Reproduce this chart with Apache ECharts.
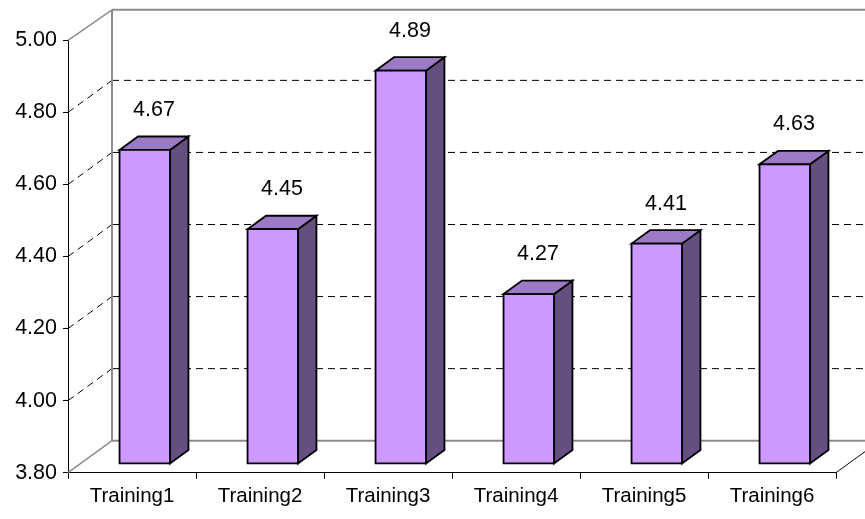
<!DOCTYPE html>
<html><head><meta charset="utf-8">
<script src="https://cdn.jsdelivr.net/npm/echarts@6/dist/echarts.min.js"></script>
<style>html,body{margin:0;padding:0;background:#fff}#c{width:865px;height:519px}</style>
</head><body><div id="c"></div>
<script>
// ---- data ----
const categories = ['Training1', 'Training2', 'Training3', 'Training4', 'Training5', 'Training6'];
const values = [4.67, 4.45, 4.89, 4.27, 4.41, 4.63];
const gridValues = [4.0, 4.2, 4.4, 4.6, 4.8];
const yMin = 3.8, yMax = 5.0, yStep = 0.2;

// ---- style / 3D geometry ----
const DX = 44, DY = -32;          // depth of the chart box
const F0 = 0.29, F1 = 0.71;       // bar depth band (fraction of depth)
const BAR_W = 0.394;              // bar width as fraction of category width
const FONT = '"Liberation Sans", Arial, sans-serif';
const FS = 20.5, FSN = 21.5;
const C_FRONT = '#CC99FF', C_TOP = '#9D7AC6', C_SIDE = '#654E80';
const C_WALL = '#8C8C8C';

const chart = echarts.init(document.getElementById('c'), null, {renderer: 'canvas'});

function gridItem(params, api) {
  const cs = params.coordSys;
  const v = api.value(1);
  const y = api.coord([0, v])[1];
  const x0 = cs.x;
  const style = {stroke: '#000', lineWidth: 1, lineDash: [7, 5]};
  return {type: 'group', children: [
    {type: 'line', shape: {x1: x0, y1: y, x2: x0 + DX, y2: y + DY}, style: style},
    {type: 'line', shape: {x1: x0 + DX, y1: y + DY, x2: 920, y2: y + DY}, style: style}
  ]};
}

function wallItem(params, api) {
  const cs = params.coordSys;
  const x0 = cs.x, x1 = cs.x + cs.width;
  const yb = api.coord([0, yMin])[1];
  const yt = api.coord([0, yMax])[1];
  const g = {stroke: C_WALL, lineWidth: 2};
  const g2 = {stroke: C_WALL, lineWidth: 1.5};
  return {type: 'group', children: [
    {type: 'line', shape: {x1: x0 + DX, y1: yb + DY, x2: x0 + DX, y2: yt + DY + 1.5}, style: g},
    {type: 'line', shape: {x1: x0 + DX, y1: yt + DY + 1.5, x2: 920, y2: yt + DY + 1.5}, style: g},
    {type: 'line', shape: {x1: x0 + DX, y1: yb + DY, x2: 920, y2: yb + DY}, style: g},
    {type: 'line', shape: {x1: x0, y1: yt, x2: x0 + DX, y2: yt + DY + 1.5}, style: g2},
    {type: 'line', shape: {x1: x0, y1: yb, x2: x0 + DX, y2: yb + DY}, style: g2},
    {type: 'line', shape: {x1: x1, y1: yb, x2: x1 + DX, y2: yb + DY}, style: {stroke: '#000', lineWidth: 1}}
  ]};
}

function barItem(params, api) {
  const idx = api.value(0), v = api.value(1);
  const base = api.coord([idx, yMin]);
  const top = api.coord([idx, v]);
  const bw = api.size([1, 0])[0];
  const w = bw * BAR_W;
  const cx = base[0];
  const fx0 = cx - w / 2 + DX * F0, fx1 = cx + w / 2 + DX * F0;
  const fyB = base[1] + DY * F0, fyT = top[1] + DY * F0;
  const ddx = DX * (F1 - F0), ddy = DY * (F1 - F0);
  const st = {stroke: '#000', lineWidth: 1.8, lineJoin: 'miter'};
  return {type: 'group', children: [
    {type: 'polygon', shape: {points: [[fx1, fyT], [fx1 + ddx, fyT + ddy], [fx1 + ddx, fyB + ddy], [fx1, fyB]]},
      style: Object.assign({fill: C_SIDE}, st)},
    {type: 'polygon', shape: {points: [[fx0, fyT], [fx0 + ddx, fyT + ddy], [fx1 + ddx, fyT + ddy], [fx1, fyT]]},
      style: Object.assign({fill: C_TOP}, st)},
    {type: 'polygon', shape: {points: [[fx0, fyT], [fx1, fyT], [fx1, fyB], [fx0, fyB]]},
      style: Object.assign({fill: C_FRONT}, st)},
    {type: 'text', style: {text: v.toFixed(2), x: cx + DX * (F0 + F1) / 2, y: fyT - 40,
      align: 'center', verticalAlign: 'middle', fill: '#000', font: FSN + 'px ' + FONT}}
  ]};
}

chart.setOption({
  animation: false,
  grid: {left: 68, right: 29, top: 40.3, bottom: 46.3},
  xAxis: {
    type: 'category', data: categories, boundaryGap: true,
    axisLine: {lineStyle: {color: '#000', width: 1}},
    axisTick: {show: true, length: 6, lineStyle: {color: '#000'}},
    axisLabel: {color: '#000', fontSize: FS, fontFamily: FONT, margin: 13}
  },
  yAxis: {
    type: 'value', min: yMin, max: yMax, interval: yStep,
    axisLine: {show: true, lineStyle: {color: '#000', width: 1}},
    axisTick: {show: true, length: 5, lineStyle: {color: '#000'}},
    splitLine: {show: false},
    axisLabel: {formatter: v => v.toFixed(2), color: '#000', fontSize: FSN, fontFamily: FONT, margin: 11}
  },
  series: [
    {type: 'custom', z: 1, silent: true, clip: false,
      data: gridValues.map(v => [0, v]), encode: {x: 0, y: 1}, renderItem: gridItem},
    {type: 'custom', z: 1, silent: true, clip: false,
      data: [[0, yMin]], encode: {x: 0, y: 1}, renderItem: wallItem},
    {type: 'custom', z: 3, silent: true, clip: false,
      data: values.map((v, i) => [i, v]), encode: {x: 0, y: 1}, renderItem: barItem}
  ]
});
</script>
</body></html>
